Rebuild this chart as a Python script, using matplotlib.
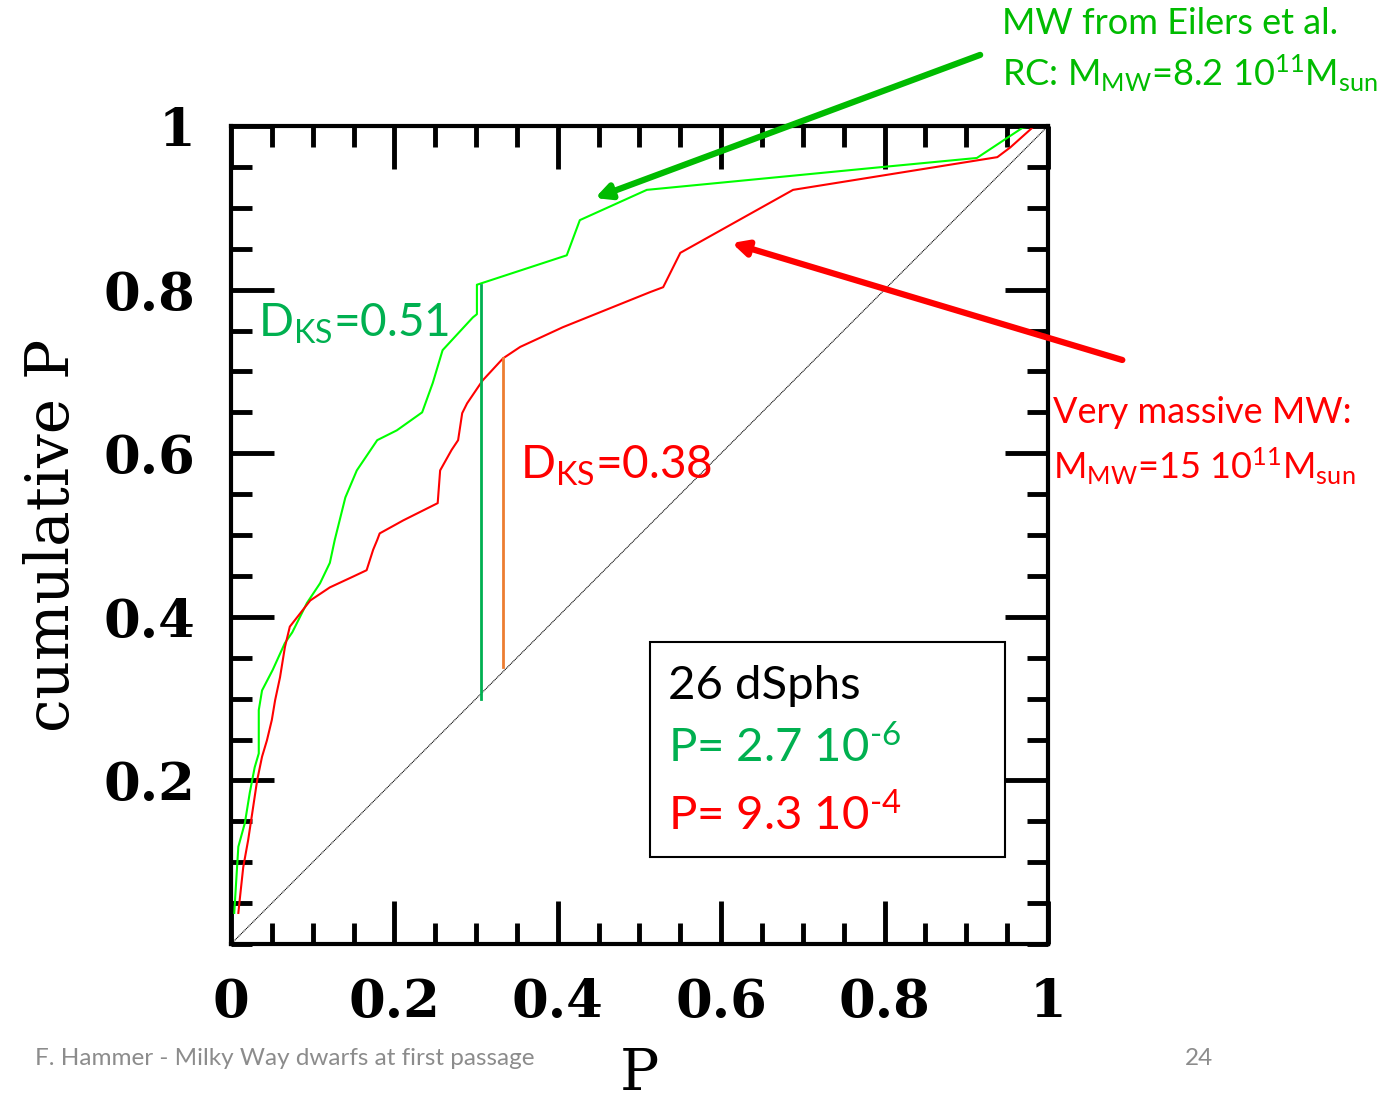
import matplotlib
matplotlib.use("Agg")
import matplotlib.pyplot as plt
from matplotlib.ticker import MultipleLocator

plt.rcParams['mathtext.fontset'] = 'custom'
plt.rcParams['mathtext.rm'] = 'Lato'
plt.rcParams['mathtext.it'] = 'Lato'

# cumulative distributions
green_x = [0.004, 0.007, 0.009, 0.017, 0.023, 0.029, 0.034, 0.034, 0.038, 0.051,
           0.066, 0.075, 0.093, 0.109, 0.121, 0.127, 0.133, 0.140, 0.154, 0.179,
           0.203, 0.234, 0.247, 0.259, 0.296, 0.301, 0.301, 0.411, 0.427, 0.509,
           0.798, 0.913, 0.969, 0.982, 1.0]
green_y = [0.038, 0.087, 0.119, 0.148, 0.185, 0.216, 0.233, 0.286, 0.310, 0.335,
           0.368, 0.381, 0.417, 0.441, 0.466, 0.494, 0.518, 0.546, 0.579, 0.616,
           0.628, 0.650, 0.686, 0.726, 0.766, 0.770, 0.806, 0.842, 0.885, 0.922,
           0.950, 0.961, 0.998, 1.0, 1.0]

red_x = [0.009, 0.011, 0.015, 0.021, 0.026, 0.032, 0.038, 0.044, 0.050, 0.054,
         0.060, 0.066, 0.072, 0.097, 0.121, 0.149, 0.166, 0.174, 0.179, 0.182,
         0.211, 0.253, 0.256, 0.270, 0.278, 0.283, 0.289, 0.308, 0.333, 0.354,
         0.406, 0.513, 0.529, 0.550, 0.688, 0.913, 0.938, 0.954, 0.982, 1.0]
red_y = [0.038, 0.057, 0.094, 0.127, 0.160, 0.200, 0.229, 0.249, 0.274, 0.298,
         0.326, 0.363, 0.388, 0.420, 0.436, 0.449, 0.457, 0.482, 0.494, 0.502,
         0.518, 0.539, 0.579, 0.604, 0.616, 0.649, 0.661, 0.689, 0.716, 0.730,
         0.754, 0.797, 0.803, 0.845, 0.922, 0.958, 0.962, 0.974, 0.999, 1.0]

# KS distances: x, bottom, top
ks_green = (0.306, 0.300, 0.806)
ks_red = (0.333, 0.339, 0.716)

tick_labels = ['0', '0.2', '0.4', '0.6', '0.8', '1']

fig = plt.figure(figsize=(13.84, 11), dpi=100)
ax = fig.add_axes([0.1669, 0.1418, 0.5903, 0.7436])

ax.plot([0, 1], [0, 1], color='black', lw=0.8, ls=(0, (1, 0.6)))
ax.plot(green_x, green_y, color='#00ff00', lw=1.5)
ax.plot(red_x, red_y, color='#ff0000', lw=1.5)
ax.plot([ks_green[0]] * 2, ks_green[1:], color='#00b050', lw=2)
ax.plot([ks_red[0]] * 2, ks_red[1:], color='#ed7d31', lw=2)

ax.set_xlim(0, 1)
ax.set_ylim(0, 1)
ax.xaxis.set_major_locator(MultipleLocator(0.2))
ax.yaxis.set_major_locator(MultipleLocator(0.2))
ax.xaxis.set_minor_locator(MultipleLocator(0.05))
ax.yaxis.set_minor_locator(MultipleLocator(0.05))
ax.tick_params(which='both', direction='in', top=True, right=True, width=3.5, color='black')
ax.tick_params(which='major', length=31)
ax.tick_params(axis='y', which='major', pad=26)
ax.tick_params(axis='x', which='major', pad=24)
ax.tick_params(which='minor', length=15)
for s in ax.spines.values():
    s.set_linewidth(3)

tfont = dict(family='DejaVu Serif', weight='bold', size=38)
ax.set_xticks([0, 0.2, 0.4, 0.6, 0.8, 1.0])
ax.set_xticklabels(tick_labels, **tfont)
ax.set_yticks([0.2, 0.4, 0.6, 0.8, 1.0])
ax.set_yticklabels(tick_labels[1:], **tfont)

ax.set_ylabel('cumulative P', family='DejaVu Serif', size=43, labelpad=16)
ax.set_xlabel('P', family='DejaVu Serif', size=42, labelpad=13)

# KS labels
ax.text(0.033, 0.758, r'D$_{\mathregular{KS}}$=0.51', color='#00b050', family='Lato',
        size=33, va='center', ha='left')
ax.text(0.354, 0.585, r'D$_{\mathregular{KS}}$=0.38', color='#ff0000', family='Lato',
        size=33, va='center', ha='left')

# box with probabilities
ax.add_patch(plt.Rectangle((0.513, 0.106), 0.434, 0.263, fill=False, lw=1.5,
                           edgecolor='black'))
ax.text(0.535, 0.315, '26 dSphs', color='black', family='Lato', size=34, va='center')
ax.text(0.535, 0.240, r'P= 2.7 10$^{\text{-6}}$', color='#00b050', family='Lato',
        size=34, va='center')
ax.text(0.535, 0.158, r'P= 9.3 10$^{\text{-4}}$', color='#ff0000', family='Lato',
        size=34, va='center')

# arrows
ax.annotate('', xy=(0.4455, 0.912), xytext=(0.917, 1.087), annotation_clip=False,
            arrowprops=dict(arrowstyle='-|>,head_length=0.9,head_width=0.45',
                            color='#00bb00', lw=4.5, shrinkA=0, shrinkB=0))
ax.annotate('', xy=(0.613, 0.857), xytext=(1.091, 0.714), annotation_clip=False,
            arrowprops=dict(arrowstyle='-|>,head_length=0.9,head_width=0.45',
                            color='#ff0000', lw=4.5, shrinkA=0, shrinkB=0))

fig.text(0.724, 0.979, 'MW from Eilers et al.', color='#00bb00', family='Lato',
         size=26, va='center')
fig.text(0.724, 0.933, r'RC: M$_{\mathregular{MW}}$=8.2 10$^{\mathregular{11}}$M$_{\mathregular{sun}}$',
         color='#00bb00', family='Lato', size=26, va='center')
fig.text(0.761, 0.625, 'Very massive MW:', color='#ff0000', family='Lato',
         size=26, va='center')
fig.text(0.761, 0.576, r'M$_{\mathregular{MW}}$=15 10$^{\mathregular{11}}$M$_{\mathregular{sun}}$',
         color='#ff0000', family='Lato', size=26, va='center')

fig.text(0.025, 0.038, 'F. Hammer - Milky Way dwarfs at first passage', color='#8c8c8c',
         family='Lato', size=17.5, va='center')
fig.text(0.856, 0.038, '24', color='#8c8c8c', family='Lato', size=17.5, va='center')

fig.savefig('out.png', dpi=100)
